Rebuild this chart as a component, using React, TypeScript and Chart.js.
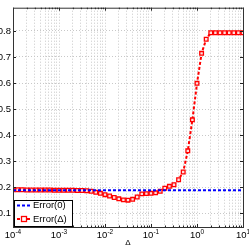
import React, { useEffect, useRef } from "react";
import { Chart, registerables } from "chart.js";

Chart.register(...registerables);

// log10 of Δ for each sample
const deltaExponents = [
  -4.0, -3.9, -3.8, -3.7, -3.6, -3.5, -3.4, -3.3, -3.2, -3.1,
  -3.0, -2.9, -2.8, -2.7, -2.6, -2.5, -2.4, -2.3, -2.2, -2.1,
  -2.0, -1.9, -1.8, -1.7, -1.6, -1.5, -1.4, -1.3, -1.2, -1.1,
  -1.0, -0.9, -0.8, -0.7, -0.6, -0.5, -0.4, -0.3, -0.2, -0.1,
  0.0, 0.1, 0.2, 0.3, 0.4, 0.5, 0.6, 0.7, 0.8, 0.9, 1.0,
];

const errorDelta = [
  0.191, 0.191, 0.191, 0.190, 0.190, 0.190, 0.190, 0.190, 0.190, 0.189,
  0.189, 0.189, 0.189, 0.189, 0.188, 0.188, 0.187, 0.185, 0.181, 0.177,
  0.172, 0.167, 0.161, 0.156, 0.152, 0.151, 0.154, 0.163, 0.175, 0.176,
  0.177, 0.179, 0.185, 0.197, 0.204, 0.210, 0.229, 0.259, 0.340, 0.459,
  0.599, 0.714, 0.768, 0.793, 0.793, 0.793, 0.793, 0.793, 0.793, 0.793, 0.793,
];

const errorZero = 0.189;
const xRangeExponents = [-4, 1];
const yTicks = [0.1, 0.2, 0.3, 0.4, 0.5, 0.6, 0.7, 0.8];
const xMajorExponents = [-4, -3, -2, -1, 0, 1];
const seriesLabels = ["Error(0)", "Error(\u0394)"];
const xTitle = "\u0394";

const FONT = "'Liberation Sans', Arial, sans-serif";

export default function App() {
  const ref = useRef<HTMLCanvasElement | null>(null);

  useEffect(() => {
    document.body.style.margin = "0";
    const canvas = ref.current;
    if (!canvas) return;

    const redData = deltaExponents.map((e, i) => ({ x: Math.pow(10, e), y: errorDelta[i] }));
    const blueData = xRangeExponents.map((e) => ({ x: Math.pow(10, e), y: errorZero }));

    const allXTicks: number[] = [];
    for (let k = xRangeExponents[0]; k <= xRangeExponents[1]; k++) {
      for (let m = 1; m <= 9; m++) {
        const v = m * Math.pow(10, k);
        if (k === xRangeExponents[1] && m > 1) break;
        allXTicks.push(v);
      }
    }

    const overlay = {
      id: "matlabOverlay",
      afterDraw(chart: any) {
        const ctx = chart.ctx as CanvasRenderingContext2D;
        const area = chart.chartArea;
        const xs = chart.scales.x;
        const ys = chart.scales.y;
        ctx.save();

        // tick marks inside
        ctx.strokeStyle = "#222";
        ctx.lineWidth = 1;
        ctx.beginPath();
        allXTicks.forEach((v) => {
          const px = Math.round(xs.getPixelForValue(v)) + 0.5;
          const major = Math.abs(Math.log10(v) - Math.round(Math.log10(v))) < 1e-9;
          const len = major ? 3 : 1.5;
          ctx.moveTo(px, area.bottom);
          ctx.lineTo(px, area.bottom - len);
          ctx.moveTo(px, area.top);
          ctx.lineTo(px, area.top + len);
        });
        yTicks.forEach((v) => {
          const py = Math.round(ys.getPixelForValue(v)) + 0.5;
          ctx.moveTo(area.left, py);
          ctx.lineTo(area.left + 3, py);
          ctx.moveTo(area.right, py);
          ctx.lineTo(area.right - 3, py);
        });
        ctx.stroke();

        // box
        ctx.strokeStyle = "#333";
        ctx.strokeRect(area.left + 0.5, area.top + 0.5, area.right - area.left, area.bottom - area.top);

        // x tick labels with superscripts
        ctx.fillStyle = "#000";
        ctx.textBaseline = "alphabetic";
        ctx.textAlign = "left";
        xMajorExponents.forEach((k) => {
          const px = xs.getPixelForValue(Math.pow(10, k));
          ctx.font = `9.5px ${FONT}`;
          const w1 = ctx.measureText("10").width;
          ctx.font = `6.5px ${FONT}`;
          const expText = String(k);
          const w2 = ctx.measureText(expText).width;
          const start = px - (w1 + w2) / 2;
          ctx.font = `9.5px ${FONT}`;
          ctx.fillText("10", start, 238);
          ctx.font = `6.5px ${FONT}`;
          ctx.fillText(expText, start + w1, 234);
        });

        // x title
        ctx.font = `8px ${FONT}`;
        ctx.textAlign = "center";
        ctx.fillText(xTitle, (area.left + area.right) / 2, 245);

        // legend
        const lx = 14, ly = 200, lw = 58, lh = 26;
        ctx.fillStyle = "#fff";
        ctx.fillRect(lx, ly, lw, lh);
        ctx.strokeStyle = "#000";
        ctx.lineWidth = 1;
        ctx.strokeRect(lx + 0.5, ly + 0.5, lw, lh);

        const rows = [205.5, 219];
        // blue
        ctx.strokeStyle = "#0000ff";
        ctx.lineWidth = 2;
        ctx.setLineDash([3, 2]);
        ctx.beginPath();
        ctx.moveTo(17, rows[0]);
        ctx.lineTo(31, rows[0]);
        ctx.stroke();
        // red
        ctx.strokeStyle = "#ff0000";
        ctx.beginPath();
        ctx.moveTo(17, rows[1]);
        ctx.lineTo(31, rows[1]);
        ctx.stroke();
        ctx.setLineDash([]);
        ctx.fillStyle = "#fff";
        ctx.lineWidth = 1.3;
        ctx.fillRect(21.5, rows[1] - 2.5, 5, 5);
        ctx.strokeRect(21.5, rows[1] - 2.5, 5, 5);

        ctx.fillStyle = "#000";
        ctx.font = `9.5px ${FONT}`;
        ctx.textAlign = "left";
        ctx.textBaseline = "middle";
        ctx.fillText(seriesLabels[0], 33, rows[0]);
        ctx.fillText(seriesLabels[1], 33, rows[1]);

        ctx.restore();
      },
    };

    const chart = new Chart(canvas, {
      type: "line",
      data: {
        datasets: [
          {
            label: seriesLabels[0],
            data: blueData,
            borderColor: "#0000ff",
            borderWidth: 2,
            borderDash: [3, 2],
            pointRadius: 0,
            fill: false,
          },
          {
            label: seriesLabels[1],
            data: redData,
            borderColor: "#ff0000",
            backgroundColor: "#ffffff",
            borderWidth: 2,
            borderDash: [3, 2],
            pointStyle: "rect",
            pointRadius: 2.6,
            pointBorderWidth: 1.3,
            pointBorderColor: "#ff0000",
            pointBackgroundColor: "#ffdede",
            fill: false,
          },
        ],
      },
      options: {
        animation: false,
        responsive: false,
        maintainAspectRatio: false,
        layout: { padding: { top: 0, right: 6, bottom: 0, left: 0 } },
        plugins: { legend: { display: false }, tooltip: { enabled: false } },
        scales: {
          x: {
            type: "logarithmic",
            min: Math.pow(10, xRangeExponents[0]),
            max: Math.pow(10, xRangeExponents[1]),
            afterBuildTicks: (scale: any) => {
              scale.ticks = allXTicks.map((v) => ({ value: v }));
            },
            afterFit: (scale: any) => {
              scale.height = 22;
            },
            ticks: { display: false },
            grid: { color: "#c8c8c8", lineWidth: 1, drawTicks: false },
            border: { display: false, dash: [1, 2] },
          },
          y: {
            type: "linear",
            min: 0.048,
            max: 0.889,
            afterBuildTicks: (scale: any) => {
              scale.ticks = yTicks.map((v) => ({ value: v }));
            },
            afterFit: (scale: any) => {
              scale.width = 13;
            },
            ticks: {
              color: "#000",
              padding: 2,
              font: { family: FONT, size: 9.5 },
              callback: (v: any) => Number(v).toFixed(1),
            },
            grid: { color: "#c8c8c8", lineWidth: 1, drawTicks: false },
            border: { display: false, dash: [1, 2] },
          },
        },
      },
      plugins: [overlay],
    });

    return () => chart.destroy();
  }, []);

  return (
    <div style={{ position: "fixed", left: 0, top: 0, width: 249, height: 249, background: "#fff" }}>
      <canvas ref={ref} width={249} height={249} style={{ width: 249, height: 249 }} />
    </div>
  );
}
